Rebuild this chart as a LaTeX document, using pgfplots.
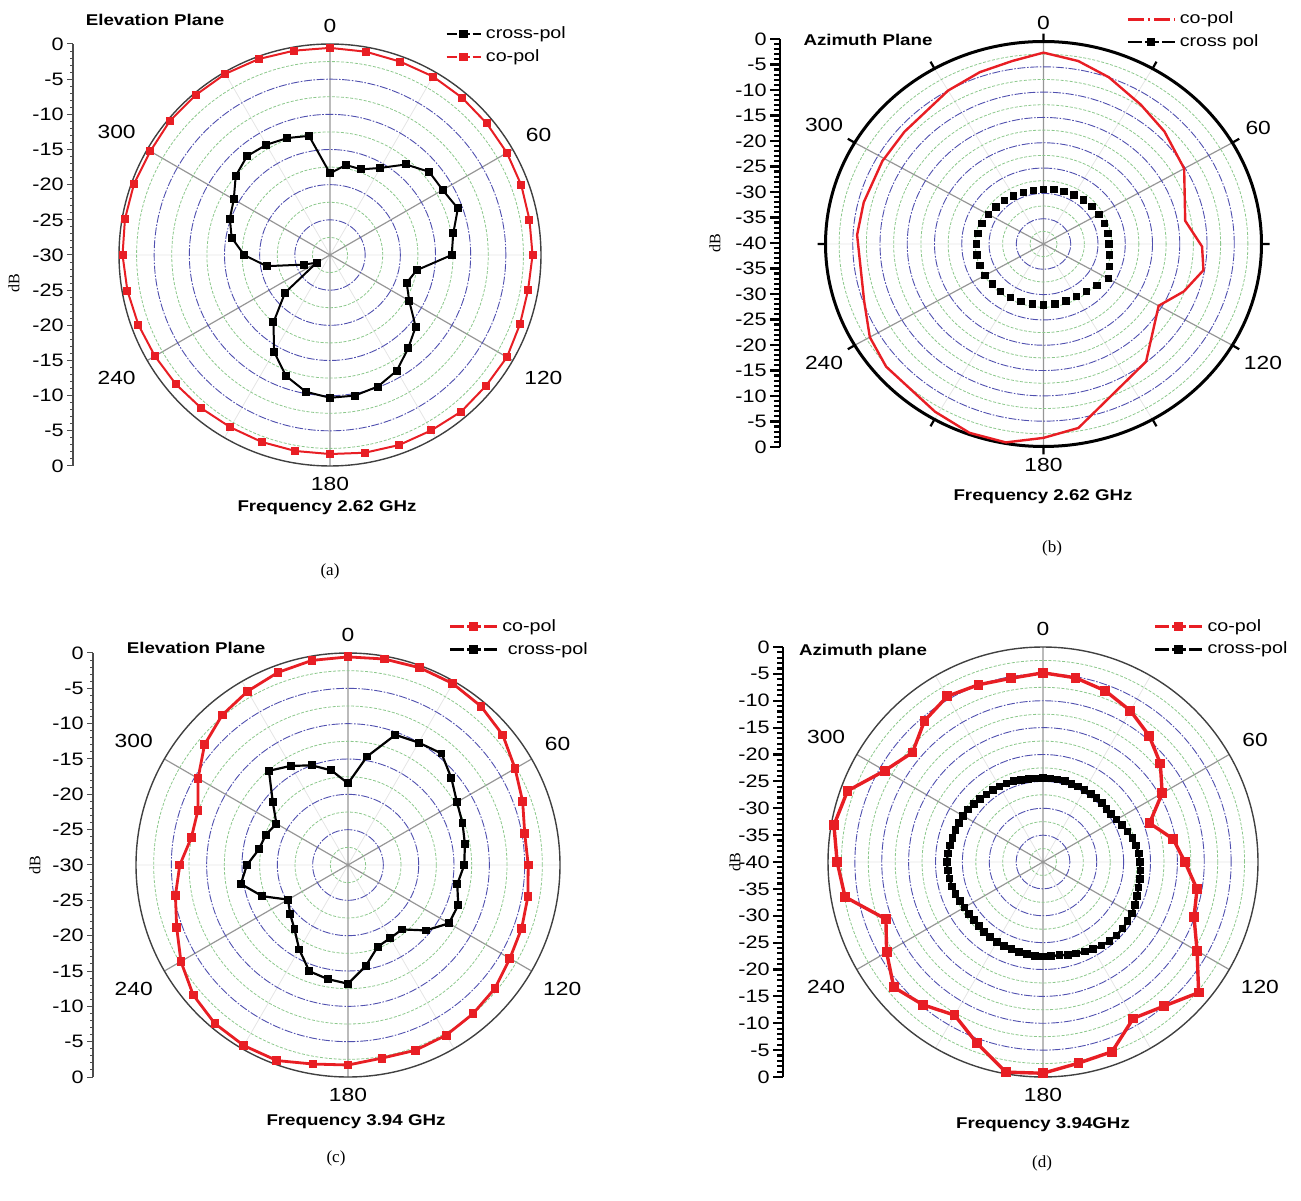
\documentclass[border=0pt]{standalone}
\usepackage{pgfplots}
\pgfplotsset{compat=1.18}
\usepackage{pgfplotstable}
\usepgfplotslibrary{polar}
\usepackage{fontspec}
\setmainfont[FakeStretch=1.2]{Liberation Sans}
\newfontfamily\serif{Liberation Serif}
\definecolor{cred}{RGB}{232,30,36}
\definecolor{gblue}{RGB}{80,80,175}
\definecolor{ggreen}{RGB}{140,200,140}
\definecolor{spoke}{RGB}{150,150,150}

% ---------- data (angle in degrees clockwise from top, level in dB) ----------
\pgfplotstableread[row sep=\\]{t r\\
0 -0.55\\ 10 -0.65\\ 20 -0.75\\ 30 -0.7\\ 40 -0.8\\ 50 -0.9\\ 60 -0.95\\ 70 -1.05\\ 80 -1.2\\ 90 -1.2\\
100 -1.4\\ 110 -1.25\\ 120 -0.95\\ 130 -1.05\\ 140 -0.95\\ 150 -1.2\\ 160 -1.25\\ 170 -1.45\\ 180 -1.7\\
190 -1.7\\ 200 -1.7\\ 210 -1.7\\ 220 -1.55\\ 230 -1.4\\ 240 -1.25\\ 250 -1.0\\ 260 -0.75\\ 270 -0.5\\
280 -0.4\\ 290 -0.35\\ 300 -0.5\\ 310 -0.3\\ 320 -0.3\\ 330 -0.25\\ 340 -0.35\\ 350 -0.5\\ 360 -0.55\\
}\acop
\pgfplotstableread[row sep=\\]{t r\\
0 -18.4\\ 10 -17.0\\ 20 -17.05\\ 30 -15.7\\ 40 -13.2\\ 50 -11.6\\ 60 -11.5\\ 70 -10.65\\ 80 -12.2\\ 90 -12.7\\
100 -17.5\\ 110 -18.4\\ 120 -17.0\\ 130 -14.1\\ 140 -12.7\\ 150 -11.0\\ 160 -10.1\\ 170 -9.7\\ 180 -9.7\\
190 -10.25\\ 200 -11.7\\ 210 -14.1\\ 220 -17.5\\ 230 -21.65\\ 240 -27.8\\ 250 -26.0\\ 260 -20.85\\ 270 -17.8\\
280 -15.8\\ 290 -14.85\\ 300 -14.2\\ 310 -12.5\\ 320 -11.65\\ 330 -11.9\\ 340 -12.3\\ 350 -12.8\\ 360 -18.4\\
}\across
\pgfplotstableread[row sep=\\]{t r\\
0 -2.2\\ 10 -3.3\\ 20 -4.95\\ 33 -7.2\\ 45 -8.6\\ 60 -10.2\\ 80 -13.6\\ 91 -10.9\\ 100 -10.2\\ 110 -12.6\\
120 -15.6\\ 141 -10.1\\ 170 -3.1\\ 180 -1.7\\ 190 -0.2\\ 200 -0.3\\ 211 -1.35\\ 230 -2.3\\ 240 -3.2\\
251 -5.2\\ 273 -5.75\\ 284 -6.0\\ 299 -6.2\\ 311 -6.2\\ 330 -5.0\\ 341 -4.1\\ 351 -3.4\\ 360 -2.2\\
}\bcop
\pgfplotstableread[row sep=\\]{t r\\
0 -29.2\\ 10 -29.1\\ 20 -29.0\\ 30 -28.8\\ 40 -28.6\\ 50 -28.4\\ 60 -28.3\\ 70 -28.1\\ 80 -28.0\\ 90 -28.0\\
100 -27.7\\ 110 -27.1\\ 120 -26.3\\ 130 -27.2\\ 140 -27.8\\ 150 -28.0\\ 160 -28.0\\ 170 -28.0\\ 180 -28.0\\
190 -28.0\\ 200 -27.9\\ 210 -27.8\\ 220 -27.7\\ 230 -27.7\\ 240 -27.6\\ 250 -27.6\\ 260 -27.6\\ 270 -27.7\\
280 -27.8\\ 290 -28.0\\ 300 -28.3\\ 310 -28.6\\ 320 -28.8\\ 330 -29.0\\ 340 -29.1\\ 350 -29.2\\
}\bcross
\pgfplotstableread[row sep=\\]{t r\\
0 -0.55\\ 10 -0.4\\ 20 -0.3\\ 30 -0.35\\ 40 -0.7\\ 50 -1.4\\ 60 -2.7\\ 70 -3.7\\ 80 -4.6\\ 90 -4.5\\
100 -4.15\\ 110 -3.85\\ 120 -3.55\\ 130 -2.85\\ 140 -2.5\\ 150 -2.2\\ 160 -2.1\\ 170 -2.25\\ 180 -1.7\\
190 -1.4\\ 200 -0.55\\ 210 -0.5\\ 220 -0.7\\ 230 -1.4\\ 240 -2.7\\ 250 -4.2\\ 260 -5.2\\ 270 -6.2\\
280 -7.5\\ 290 -7.4\\ 300 -5.5\\ 310 -3.5\\ 320 -2.3\\ 330 -1.6\\ 340 -1.0\\ 350 -0.6\\ 360 -0.55\\
}\ccop
\pgfplotstableread[row sep=\\]{t r\\
0 -18.45\\ 10 -14.4\\ 20 -10.4\\ 30 -10.0\\ 40 -9.4\\ 50 -10.9\\ 60 -12.2\\ 70 -12.75\\ 80 -13.2\\ 90 -13.55\\
100 -14.3\\ 110 -13.4\\ 120 -13.5\\ 130 -15.6\\ 140 -18.1\\ 150 -18.05\\ 160 -17.7\\ 170 -15.5\\ 180 -13.2\\
190 -13.6\\ 200 -14.0\\ 210 -16.2\\ 220 -18.2\\ 230 -19.3\\ 240 -20.2\\ 250 -17.1\\ 260 -14.6\\ 270 -15.7\\
280 -17.2\\ 290 -17.6\\ 300 -18.3\\ 310 -16.1\\ 320 -12.6\\ 330 -13.8\\ 340 -15.0\\ 350 -16.4\\ 360 -18.45\\
}\ccross
\pgfplotstableread[row sep=\\]{t r\\
0 -4.8\\ 10 -5.2\\ 20 -6.1\\ 30 -7.5\\ 40 -9.3\\ 50 -11.5\\ 60 -14.4\\ 70 -18.9\\ 80 -15.4\\ 90 -13.6\\
100 -10.9\\ 110 -10.1\\ 120 -6.9\\ 130 -2.2\\ 140 -5.0\\ 150 -6.4\\ 160 -2.45\\ 170 -2.0\\ 180 -0.7\\
190 -0.3\\ 200 -4.1\\ 210 -7.1\\ 220 -5.3\\ 230 -3.75\\ 240 -6.4\\ 250 -8.9\\ 260 -2.6\\ 270 -1.7\\
280 -0.5\\ 290 -1.3\\ 300 -6.0\\ 310 -8.3\\ 320 -5.7\\ 330 -4.4\\ 340 -4.9\\ 350 -5.3\\ 360 -4.8\\
}\dcop
\pgfplotstableread[row sep=\\]{t r\\
0 -24.4\\ 5 -24.4\\ 10 -24.4\\ 15 -24.4\\ 20 -24.5\\ 25 -24.5\\ 30 -24.5\\ 35 -24.5\\ 40 -24.5\\ 45 -24.5\\
50 -24.6\\ 55 -24.5\\ 60 -24.2\\ 65 -23.8\\ 70 -23.3\\ 75 -22.8\\ 80 -22.4\\ 85 -22.1\\ 90 -22.0\\ 95 -21.8\\
100 -21.7\\ 105 -21.6\\ 110 -21.4\\ 115 -21.1\\ 120 -20.9\\ 125 -20.8\\ 130 -20.7\\ 135 -20.7\\ 140 -20.8\\
145 -21.0\\ 150 -21.3\\ 155 -21.6\\ 160 -21.9\\ 165 -22.1\\ 170 -22.4\\ 175 -22.4\\ 180 -22.4\\ 185 -22.5\\
190 -22.6\\ 195 -22.7\\ 200 -22.8\\ 205 -22.8\\ 210 -22.8\\ 215 -22.9\\ 220 -23.0\\ 225 -23.1\\ 230 -23.2\\
235 -23.2\\ 240 -23.1\\ 245 -22.9\\ 250 -22.7\\ 255 -22.5\\ 260 -22.3\\ 265 -22.2\\ 270 -22.1\\ 275 -22.2\\
280 -22.4\\ 285 -22.6\\ 290 -22.7\\ 295 -22.7\\ 300 -22.8\\ 305 -23.0\\ 310 -23.2\\ 315 -23.4\\ 320 -23.6\\
325 -23.7\\ 330 -23.8\\ 335 -23.9\\ 340 -24.0\\ 345 -24.2\\ 350 -24.3\\ 355 -24.4\\ 360 -24.4\\
}\dcross

\pgfplotsset{
 polarbase/.style={
  scale only axis, clip=false, anchor=center,
  xmin=0, xmax=360, ymin=0,
  xtick={30,90,150,210,270,330},
  xticklabels={60,0,300,240,180,120},
  minor xtick={0,60,120,180,240,300},
  grid=both,
  major x grid style={draw=spoke, line width=0.6pt},
  minor x grid style={draw=black!10, line width=0.4pt},
  major y grid style={draw=gblue, line width=0.45pt, dash pattern=on 4pt off 0.8pt on 0.8pt off 0.8pt},
  minor y grid style={draw=ggreen, line width=0.4pt, dash pattern=on 1.5pt off 0.8pt},
  yticklabels={},
  major y tick style={draw=none}, minor y tick style={draw=none},
  major x tick style={draw=none}, minor x tick style={draw=none},
  xticklabel style={font=\fontsize{9.5}{11}\selectfont, inner sep=5.5pt},
  axis line style={draw=black!75, line width=0.7pt},
  y axis line style={draw=none},
  legend style={draw=none, fill=none, anchor=north west, font=\fontsize{8.2}{9.5}\selectfont, row sep=0pt, inner sep=0pt},
  legend cell align=left,
 },
 longimg/.style={legend image code/.code={\draw[mark repeat=2,mark phase=2,##1] plot coordinates {(0cm,0cm) (0.41cm,0cm) (0.82cm,0cm)};}},
 dbscale/.style={scale only axis, anchor=west, width=1pt, xmin=0, xmax=1,
  axis x line=none, axis y line*=left, tick align=outside,
  yticklabel style={font=\fontsize{9}{10}\selectfont, inner sep=1.5pt},
  minor y tick num=4},
}

\begin{document}
\begin{tikzpicture}
\useasboundingbox (0,0) rectangle (650.5pt,600pt);

% ================= (a) =================
\begin{axis}[dbscale, at={(36.5pt,472.5pt)}, height=211pt, ymin=-30, ymax=30,
  ytick={-30,-25,...,30}, yticklabels={0,-5,-10,-15,-20,-25,-30,-25,-20,-15,-10,-5,0},
  axis line style={black!70, line width=0.6pt}, major tick length=3pt, minor tick length=1.5pt,
  tick style={black!70, line width=0.5pt}]
\addplot[draw=none] coordinates {(0,0)};
\end{axis}
\begin{polaraxis}[polarbase, at={(165pt,472.5pt)}, width=211pt, height=211pt, ymax=30,
  ytick={5,10,...,25}, minor ytick={2.5,7.5,...,27.5},
  legend style={at={(0.7725,1.052)}}]
\addplot[cred, line width=1pt, mark=square*, mark size=1.5pt, forget plot]
  table[x expr={mod(450-\thisrow{t},360)}, y expr={\thisrow{r}+30}] {\acop};
\addplot[black, line width=1pt, mark=square*, mark size=1.5pt, forget plot]
  table[x expr={mod(450-\thisrow{t},360)}, y expr={\thisrow{r}+30}] {\across};
\addlegendimage{black, line width=1.2pt, dash pattern=on 5pt off 1.5pt, mark=square*, mark size=1.5pt, mark options={solid}}
\addlegendentry{cross-pol}
\addlegendimage{cred, line width=1.2pt, dash pattern=on 5pt off 1.5pt, mark=square*, mark size=1.5pt, mark options={solid}}
\addlegendentry{co-pol}
\end{polaraxis}
\node[font=\bfseries\fontsize{7.8}{9}\selectfont] at (77.5pt,590pt) {Elevation Plane};
\node[font=\bfseries\fontsize{7.8}{9}\selectfont] at (163.5pt,346pt) {Frequency 2.62 GHz};
\node[font=\serif\fontsize{8.5}{10}\selectfont] at (165pt,314.5pt) {(a)};
\node[font=\serif\fontsize{8}{10}\selectfont, rotate=90] at (7pt,458.5pt) {dB};

% ================= (b) =================
\begin{axis}[dbscale, at={(390pt,478.5pt)}, height=204pt, ymin=-40, ymax=40,
  ytick={-40,-35,...,40}, yticklabels={0,-5,-10,-15,-20,-25,-30,-35,-40,-35,-30,-25,-20,-15,-10,-5,0},
  axis line style={black, line width=1.3pt}, major tick length=5pt, minor tick length=3pt,
  tick style={black, line width=1.1pt}]
\addplot[draw=none] coordinates {(0,0)};
\end{axis}
\begin{polaraxis}[polarbase, at={(521.75pt,478pt)}, width=218pt, height=202.5pt, ymax=40,
  ytick={5,10,...,35}, minor ytick={2.5,7.5,...,37.5},
  axis line style={draw=black, line width=1.5pt},
  y axis line style={draw=none},
  xtick style={draw=black, line width=1.1pt},
  major x tick style={draw=black, line width=1.1pt}, minor x tick style={draw=black, line width=1.1pt},
  tick align=inside, major tick length=4pt, minor tick length=4pt,
  legend style={at={(0.69,1.084)}}]
\addplot[cred, line width=1.2pt, forget plot]
  table[x expr={mod(450-\thisrow{t},360)}, y expr={\thisrow{r}+40}] {\bcop};
\addplot[black, only marks, mark=square*, mark size=1.6pt, forget plot]
  table[x expr={mod(450-\thisrow{t},360)}, y expr={\thisrow{r}+40}] {\bcross};
\addlegendimage{longimg, cred, line width=1.2pt, dash pattern=on 8pt off 2pt on 1.2pt off 2pt}
\addlegendentry{co-pol}
\addlegendimage{longimg, black, line width=1.2pt, dash pattern=on 7pt off 1.5pt, mark=square*, mark size=1.5pt, mark options={solid}}
\addlegendentry{cross pol}
\end{polaraxis}
\node[font=\bfseries\fontsize{7.8}{9}\selectfont] at (434pt,580pt) {Azimuth Plane};
\node[font=\bfseries\fontsize{7.8}{9}\selectfont] at (521.5pt,351.5pt) {Frequency 2.62 GHz};
\node[font=\serif\fontsize{8.5}{10}\selectfont] at (526pt,326pt) {(b)};
\node[font=\serif\fontsize{8}{10}\selectfont, rotate=90] at (357.5pt,478.5pt) {dB};

% ================= (c) =================
\begin{axis}[dbscale, at={(46.5pt,167.5pt)}, height=212pt, ymin=-30, ymax=30,
  ytick={-30,-25,...,30}, yticklabels={0,-5,-10,-15,-20,-25,-30,-25,-20,-15,-10,-5,0},
  axis line style={black!70, line width=0.6pt}, major tick length=3pt, minor tick length=1.5pt,
  tick style={black!70, line width=0.5pt}]
\addplot[draw=none] coordinates {(0,0)};
\end{axis}
\begin{polaraxis}[polarbase, at={(174pt,167.5pt)}, width=212pt, height=212pt, ymax=30,
  ytick={5,10,...,25}, minor ytick={2.5,7.5,...,27.5},
  legend style={at={(0.737,1.09)}}]
\addplot[cred, line width=1.4pt, mark=square*, mark size=1.5pt, forget plot]
  table[x expr={mod(450-\thisrow{t},360)}, y expr={\thisrow{r}+30}] {\ccop};
\addplot[black, line width=1.1pt, mark=square*, mark size=1.4pt, forget plot]
  table[x expr={mod(450-\thisrow{t},360)}, y expr={\thisrow{r}+30}] {\ccross};
\addlegendimage{longimg, cred, line width=1.4pt, dash pattern=on 7pt off 1.5pt, mark=square*, mark size=1.5pt, mark options={solid}}
\addlegendentry{co-pol}
\addlegendimage{longimg, black, line width=1.4pt, dash pattern=on 7pt off 1.5pt, mark=square*, mark size=1.5pt, mark options={solid}}
\addlegendentry{\ cross-pol}
\end{polaraxis}
\node[font=\bfseries\fontsize{7.8}{9}\selectfont] at (98pt,276pt) {Elevation Plane};
\node[font=\bfseries\fontsize{7.8}{9}\selectfont] at (178pt,39pt) {Frequency 3.94 GHz};
\node[font=\serif\fontsize{8.5}{10}\selectfont] at (168pt,21pt) {(c)};
\node[font=\serif\fontsize{8}{10}\selectfont, rotate=90] at (17.5pt,167.5pt) {dB};

% ================= (d) =================
\begin{axis}[dbscale, at={(391.5pt,169pt)}, height=215pt, ymin=-40, ymax=40,
  ytick={-40,-35,...,40}, yticklabels={0,-5,-10,-15,-20,-25,-30,-35,-40,-35,-30,-25,-20,-15,-10,-5,0},
  axis line style={black, line width=1.3pt}, major tick length=5pt, minor tick length=3pt,
  tick style={black, line width=1.1pt}]
\addplot[draw=none] coordinates {(0,0)};
\end{axis}
\begin{polaraxis}[polarbase, at={(521.5pt,169pt)}, width=215pt, height=215pt, ymax=40,
  ytick={5,10,...,35}, minor ytick={2.5,7.5,...,37.5},
  legend style={at={(0.757,1.075)}}]
\addplot[cred, line width=1.7pt, mark=square*, mark size=1.6pt, forget plot]
  table[x expr={mod(450-\thisrow{t},360)}, y expr={\thisrow{r}+40}] {\dcop};
\addplot[black, line width=1.2pt, mark=square*, mark size=1.3pt, forget plot]
  table[x expr={mod(450-\thisrow{t},360)}, y expr={\thisrow{r}+40}] {\dcross};
\addlegendimage{longimg, cred, line width=1.5pt, dash pattern=on 7pt off 1.5pt, mark=square*, mark size=1.5pt, mark options={solid}}
\addlegendentry{co-pol}
\addlegendimage{longimg, black, line width=1.5pt, dash pattern=on 7pt off 1.5pt, mark=square*, mark size=1.5pt, mark options={solid}}
\addlegendentry{cross-pol}
\end{polaraxis}
\node[font=\bfseries\fontsize{7.8}{9}\selectfont] at (431.5pt,274.5pt) {Azimuth plane};
\node[font=\bfseries\fontsize{7.8}{9}\selectfont] at (521.5pt,37.5pt) {Frequency 3.94GHz};
\node[font=\serif\fontsize{8.5}{10}\selectfont] at (521pt,18.5pt) {(d)};
\node[font=\serif\fontsize{8}{10}\selectfont, rotate=90] at (367.5pt,169pt) {dB};
\end{tikzpicture}
\end{document}
